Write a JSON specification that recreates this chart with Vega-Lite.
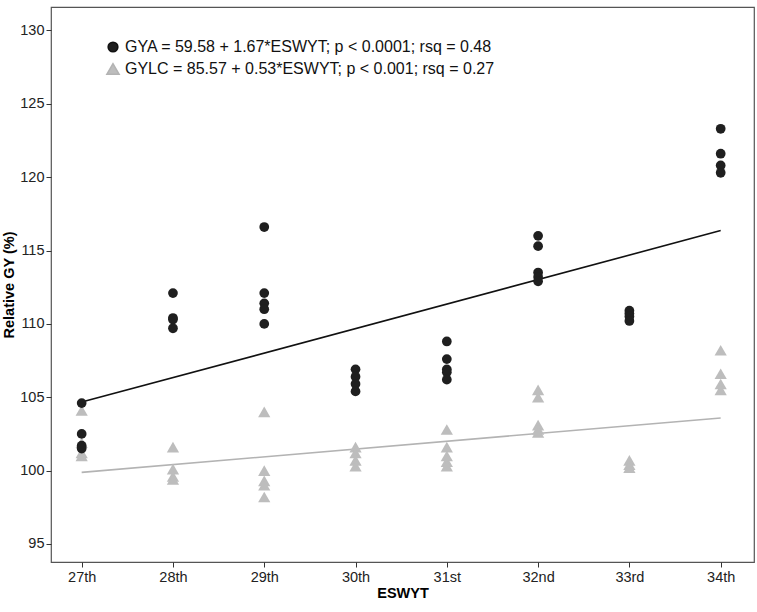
{
  "$schema": "https://vega.github.io/schema/vega-lite/v6.json",
  "autosize": {"type": "none"},
  "padding": {"left": 51, "top": 7, "right": 3, "bottom": 50},
  "width": 703,
  "height": 555,
  "background": "white",
  "config": {
    "font": "Liberation Sans",
    "view": {"stroke": "#555555", "strokeWidth": 1.2},
    "axis": {
      "grid": false,
      "domain": false,
      "tickColor": "#333333",
      "tickSize": 5,
      "labelFontSize": 14.5,
      "labelColor": "#222222",
      "titleFontSize": 14.5,
      "titleFontWeight": "bold",
      "titleColor": "#000000"
    }
  },
  "datasets": {
    "pts": [
      {"e": 27, "s": "GYLC", "v": 104.1}, {"e": 27, "s": "GYLC", "v": 101.9}, {"e": 27, "s": "GYLC", "v": 101.2}, {"e": 27, "s": "GYLC", "v": 101.0},
      {"e": 28, "s": "GYLC", "v": 101.6}, {"e": 28, "s": "GYLC", "v": 100.1}, {"e": 28, "s": "GYLC", "v": 99.6}, {"e": 28, "s": "GYLC", "v": 99.4},
      {"e": 29, "s": "GYLC", "v": 104.0}, {"e": 29, "s": "GYLC", "v": 100.0}, {"e": 29, "s": "GYLC", "v": 99.3}, {"e": 29, "s": "GYLC", "v": 99.0}, {"e": 29, "s": "GYLC", "v": 98.2},
      {"e": 30, "s": "GYLC", "v": 101.6}, {"e": 30, "s": "GYLC", "v": 101.2}, {"e": 30, "s": "GYLC", "v": 100.7}, {"e": 30, "s": "GYLC", "v": 100.3},
      {"e": 31, "s": "GYLC", "v": 102.8}, {"e": 31, "s": "GYLC", "v": 101.6}, {"e": 31, "s": "GYLC", "v": 101.0}, {"e": 31, "s": "GYLC", "v": 100.6}, {"e": 31, "s": "GYLC", "v": 100.3},
      {"e": 32, "s": "GYLC", "v": 105.5}, {"e": 32, "s": "GYLC", "v": 105.0}, {"e": 32, "s": "GYLC", "v": 103.1}, {"e": 32, "s": "GYLC", "v": 102.8}, {"e": 32, "s": "GYLC", "v": 102.6},
      {"e": 33, "s": "GYLC", "v": 100.7}, {"e": 33, "s": "GYLC", "v": 100.4}, {"e": 33, "s": "GYLC", "v": 100.2},
      {"e": 34, "s": "GYLC", "v": 108.2}, {"e": 34, "s": "GYLC", "v": 106.6}, {"e": 34, "s": "GYLC", "v": 105.9}, {"e": 34, "s": "GYLC", "v": 105.5},
      {"e": 27, "s": "GYA", "v": 104.6}, {"e": 27, "s": "GYA", "v": 102.5}, {"e": 27, "s": "GYA", "v": 101.7}, {"e": 27, "s": "GYA", "v": 101.5},
      {"e": 28, "s": "GYA", "v": 112.1}, {"e": 28, "s": "GYA", "v": 110.4}, {"e": 28, "s": "GYA", "v": 110.3}, {"e": 28, "s": "GYA", "v": 109.7},
      {"e": 29, "s": "GYA", "v": 116.6}, {"e": 29, "s": "GYA", "v": 112.1}, {"e": 29, "s": "GYA", "v": 111.4}, {"e": 29, "s": "GYA", "v": 111.0}, {"e": 29, "s": "GYA", "v": 110.0},
      {"e": 30, "s": "GYA", "v": 106.9}, {"e": 30, "s": "GYA", "v": 106.4}, {"e": 30, "s": "GYA", "v": 105.9}, {"e": 30, "s": "GYA", "v": 105.4},
      {"e": 31, "s": "GYA", "v": 108.8}, {"e": 31, "s": "GYA", "v": 107.6}, {"e": 31, "s": "GYA", "v": 106.9}, {"e": 31, "s": "GYA", "v": 106.7}, {"e": 31, "s": "GYA", "v": 106.2},
      {"e": 32, "s": "GYA", "v": 116.0}, {"e": 32, "s": "GYA", "v": 115.3}, {"e": 32, "s": "GYA", "v": 113.5}, {"e": 32, "s": "GYA", "v": 113.2}, {"e": 32, "s": "GYA", "v": 112.9},
      {"e": 33, "s": "GYA", "v": 110.9}, {"e": 33, "s": "GYA", "v": 110.7}, {"e": 33, "s": "GYA", "v": 110.5}, {"e": 33, "s": "GYA", "v": 110.2},
      {"e": 34, "s": "GYA", "v": 123.3}, {"e": 34, "s": "GYA", "v": 121.6}, {"e": 34, "s": "GYA", "v": 120.8}, {"e": 34, "s": "GYA", "v": 120.3}
    ],
    "fit": [
      {"e": 27, "s": "GYA", "v": 104.67}, {"e": 34, "s": "GYA", "v": 116.36},
      {"e": 27, "s": "GYLC", "v": 99.88}, {"e": 34, "s": "GYLC", "v": 103.59}
    ]
  },
  "encoding": {
    "x": {
      "field": "e", "type": "quantitative",
      "scale": {"domain": [26.664, 34.365], "nice": false, "zero": false},
      "axis": {
        "title": "ESWYT",
        "values": [27, 28, 29, 30, 31, 32, 33, 34],
        "labelExpr": "datum.value == 31 ? '31st' : datum.value == 32 ? '32nd' : datum.value == 33 ? '33rd' : datum.value + 'th'",
        "labelPadding": 3,
        "titlePadding": 3
      }
    },
    "y": {
      "field": "v", "type": "quantitative",
      "scale": {"domain": [93.77, 131.6], "nice": false, "zero": false},
      "axis": {
        "title": "Relative GY (%)",
        "values": [95, 100, 105, 110, 115, 120, 125, 130],
        "labelPadding": 2,
        "titlePadding": 3
      }
    }
  },
  "layer": [
    {
      "data": {"name": "fit"},
      "mark": {"type": "line", "strokeWidth": 1.6},
      "encoding": {
        "detail": {"field": "s"},
        "stroke": {"field": "s", "type": "nominal", "scale": {"domain": ["GYA", "GYLC"], "range": ["#111111", "#b3b3b3"]}}
      }
    },
    {
      "data": {"name": "pts"},
      "mark": {"type": "point", "filled": true, "opacity": 1},
      "encoding": {
        "size": {"field": "s", "type": "nominal", "scale": {"domain": ["GYA", "GYLC"], "range": [95, 150]}},
        "shape": {"field": "s", "type": "nominal", "scale": {"domain": ["GYA", "GYLC"], "range": ["circle", "triangle-up"]}},
        "color": {
          "field": "s", "type": "nominal",
          "scale": {"domain": ["GYA", "GYLC"], "range": ["#1f1f1f", "#bdbdbd"]},
          "legend": {
            "title": null,
            "orient": "none",
            "legendX": 54,
            "legendY": 32,
            "padding": 0,
            "symbolSize": 100,
            "labelOffset": 4,
            "labelFontSize": 16,
            "labelColor": "#111111",
            "labelLimit": 600,
            "rowPadding": 5,
            "labelExpr": "datum.value == 'GYA' ? 'GYA = 59.58 + 1.67*ESWYT; p < 0.0001; rsq = 0.48' : 'GYLC = 85.57 + 0.53*ESWYT; p < 0.001; rsq = 0.27'"
          }
        }
      }
    }
  ]
}
